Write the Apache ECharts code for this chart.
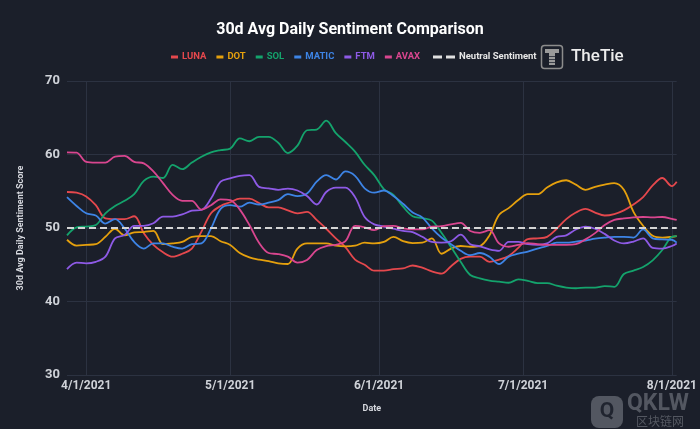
<!DOCTYPE html>
<html>
<head>
<meta charset="utf-8">
<script src="https://cdn.jsdelivr.net/npm/echarts@6/dist/echarts.min.js"></script>
<style>
  html, body { margin: 0; padding: 0; background: #1b1f2a; }
  #chart { width: 700px; height: 429px; }
</style>
</head>
<body>
<div id="chart"></div>
<script>
// Sample dates (every 2 days)
const sampleDates = [
  '3/28/2021','3/30/2021',
  '4/1/2021','4/3/2021','4/5/2021','4/7/2021','4/9/2021','4/11/2021','4/13/2021','4/15/2021','4/17/2021','4/19/2021','4/21/2021','4/23/2021','4/25/2021','4/27/2021','4/29/2021',
  '5/1/2021','5/3/2021','5/5/2021','5/7/2021','5/9/2021','5/11/2021','5/13/2021','5/15/2021','5/17/2021','5/19/2021','5/21/2021','5/23/2021','5/25/2021','5/27/2021','5/29/2021','5/31/2021',
  '6/2/2021','6/4/2021','6/6/2021','6/8/2021','6/10/2021','6/12/2021','6/14/2021','6/16/2021','6/18/2021','6/20/2021','6/22/2021','6/24/2021','6/26/2021','6/28/2021','6/30/2021',
  '7/2/2021','7/4/2021','7/6/2021','7/8/2021','7/10/2021','7/12/2021','7/14/2021','7/16/2021','7/18/2021','7/20/2021','7/22/2021','7/24/2021','7/26/2021','7/28/2021','7/30/2021',
  '8/1/2021','8/2/2021'
];

const luna = [54.9,54.8,54.3,53.1,51.3,51.2,51.2,51.6,49.3,47.7,46.7,46.1,46.5,47.2,49.5,52.0,53.0,
  53.5,54.0,54.0,53.4,52.8,52.8,52.4,52.0,52.2,51.1,49.9,48.6,47.4,45.7,45.0,44.2,
  44.2,44.4,44.5,44.9,44.6,44.1,43.8,44.8,45.8,46.1,46.1,45.4,45.7,46.2,47.3,
  48.5,48.6,48.8,49.9,51.2,52.1,52.6,52.1,51.7,51.9,52.4,53.2,54.2,55.8,56.8,
  55.7,56.3];

const dot = [48.4,47.6,47.7,47.8,48.8,49.9,49.0,49.4,49.45,49.6,47.8,47.9,48.1,48.8,48.9,48.9,48.2,
  47.7,46.6,46.0,45.7,45.5,45.2,45.1,47.2,47.9,47.9,47.9,47.6,47.5,47.6,48.0,47.9,
  48.1,48.8,48.2,47.95,48.0,48.6,46.5,47.2,47.55,47.45,47.55,49.0,51.8,52.7,53.8,
  54.6,54.6,55.5,56.2,56.5,55.9,55.2,55.6,55.9,56.1,55.2,52.2,50.3,48.95,48.7,
  48.8,48.9];

const sol = [49.0,50.1,50.2,50.4,52.0,53.0,53.7,54.6,56.4,57.0,56.8,58.6,58.0,58.9,59.7,60.3,60.6,
  60.8,62.2,61.8,62.4,62.4,61.6,60.2,61.2,63.3,63.4,64.6,62.9,61.7,60.4,58.6,57.2,
  55.3,54.5,52.9,51.6,51.35,51.0,49.35,47.4,45.4,43.6,43.15,42.85,42.7,42.55,43.0,
  42.8,42.5,42.5,42.15,41.9,41.8,41.9,41.9,42.1,42.0,43.75,44.2,44.7,45.6,47.0,
  48.8,48.9];

const matic = [54.2,53.0,52.0,51.7,50.6,51.2,49.95,48.1,47.2,47.9,47.9,47.45,47.2,47.8,47.9,49.95,52.6,
  53.1,52.9,53.45,53.2,53.45,53.8,54.6,54.35,54.7,56.3,57.2,56.6,57.7,57.1,55.4,54.8,
  55.1,54.35,53.3,52.1,51.45,49.95,48.7,47.8,46.9,46.3,46.6,46.1,45.1,46.1,46.5,
  46.8,47.2,47.55,48.0,48.0,48.15,48.3,48.55,48.7,48.8,48.8,48.7,49.8,48.6,48.45,
  48.4,48.0];

const ftm = [44.4,45.3,45.2,45.4,46.1,48.6,49.05,50.3,50.3,50.65,51.55,51.55,51.85,52.35,52.45,54.0,56.3,
  56.75,57.1,57.2,55.6,55.4,55.2,55.35,55.1,54.35,53.2,54.9,55.5,55.5,54.2,51.5,50.5,
  50.2,49.9,49.6,49.45,48.8,48.1,48.0,48.2,49.1,47.8,47.5,47.1,46.9,48.1,48.1,
  47.8,47.7,47.9,48.8,49.0,49.8,50.2,49.9,49.2,48.3,47.9,48.15,48.6,47.3,47.2,
  47.55,47.9];

const avax = [60.3,60.25,59.0,58.9,58.9,59.7,59.8,59.0,58.8,57.7,56.1,54.5,53.7,53.7,52.5,53.1,53.9,
  53.8,52.5,50.4,48.0,46.6,46.45,46.1,45.3,45.65,47.0,47.55,47.7,48.2,50.3,50.1,49.7,
  50.25,50.3,49.95,49.8,49.8,50.2,50.25,50.5,50.7,49.6,49.35,49.7,47.9,47.45,47.7,
  47.95,47.8,47.7,47.7,47.7,47.8,48.45,49.3,50.4,51.1,51.3,51.45,51.5,51.45,51.5,
  51.25,51.1];

const neutralValue = 50;
const yTicks = [30, 40, 50, 60, 70];
const seriesNames = ['LUNA', 'DOT', 'SOL', 'MATIC', 'FTM', 'AVAX'];
const seriesValues = [luna, dot, sol, matic, ftm, avax];
const colors = ['#e5484d', '#e5a00d', '#14a36c', '#3d84e6', '#8e5ae6', '#d9468f'];

// Daily category axis from first to last sample date
function buildDays(startStr, endStr) {
  const p = s => { const [m, d, y] = s.split('/').map(Number); return Date.UTC(y, m - 1, d); };
  const out = [];
  for (let t = p(startStr); t <= p(endStr); t += 86400000) {
    const dt = new Date(t);
    out.push((dt.getUTCMonth() + 1) + '/' + dt.getUTCDate() + '/' + dt.getUTCFullYear());
  }
  return out;
}
const days = buildDays(sampleDates[0], sampleDates[sampleDates.length - 1]);
const isMonthStart = (idx, val) => String(val).split('/')[1] === '1';

const chart = echarts.init(document.getElementById('chart'), null, { renderer: 'canvas' });

const series = seriesNames.map((name, i) => ({
  name,
  type: 'line',
  data: sampleDates.map((d, k) => [d, seriesValues[i][k]]),
  showSymbol: false,
  symbol: 'none',
  smooth: 0.35,
  lineStyle: { width: 1.8, color: colors[i] },
  itemStyle: { color: colors[i] },
  emphasis: { disabled: true },
  z: 2
}));
series.push({
  name: 'Neutral Sentiment',
  type: 'line',
  data: [[days[0], neutralValue], [days[days.length - 1], neutralValue]],
  showSymbol: false,
  symbol: 'none',
  lineStyle: { width: 2, color: '#d4d4d4', type: [7, 4] },
  itemStyle: { color: '#d4d4d4' },
  emphasis: { disabled: true },
  z: 3
});

const legendData = seriesNames.map((n, i) => ({
  name: n, icon: 'rect', textStyle: { color: colors[i] }
}));

const legendText = { fontSize: 9.5, fontWeight: 'bold', fontFamily: 'Roboto', padding: [0, 0, 0, -1] };

chart.setOption({
  backgroundColor: '#1b1f2a',
  animation: false,
  textStyle: { fontFamily: 'Roboto' },
  title: {
    text: '30d Avg Daily Sentiment Comparison',
    left: 'center',
    top: 17,
    textStyle: { color: '#ffffff', fontSize: 16, fontWeight: 'bold', fontFamily: 'Roboto' }
  },
  legend: [{
    data: legendData,
    left: 166,
    top: 47,
    itemWidth: 7,
    itemHeight: 3,
    itemGap: 10,
    itemStyle: { borderWidth: 0 },
    textStyle: legendText,
    selectedMode: false
  }, {
    data: [{
      name: 'Neutral Sentiment',
      icon: 'path://M0,0h9v3h-9z M13,0h9v3h-9z',
      itemStyle: { color: '#e0e0e0' },
      textStyle: { color: '#e6e6e6' }
    }],
    left: 428,
    top: 47,
    itemWidth: 22,
    itemHeight: 3,
    itemStyle: { borderWidth: 0 },
    textStyle: legendText,
    selectedMode: false
  }],
  grid: { left: 67, right: 21, top: 81, bottom: 54, containLabel: false },
  xAxis: {
    type: 'category',
    data: days,
    boundaryGap: false,
    name: 'Date',
    nameLocation: 'middle',
    nameGap: 29,
    nameTextStyle: { color: '#d6d8de', fontSize: 9, fontWeight: 'bold' },
    axisLine: { show: false },
    axisTick: { show: false },
    axisLabel: {
      interval: isMonthStart,
      color: '#cfd2d8',
      fontSize: 12,
      fontWeight: 'bold',
      margin: 5,
      hideOverlap: false
    },
    splitLine: { show: true, interval: isMonthStart, lineStyle: { color: '#2c3241', width: 1 } }
  },
  yAxis: {
    type: 'value',
    min: yTicks[0],
    max: yTicks[yTicks.length - 1],
    interval: 10,
    name: '30d Avg Daily Sentiment Score',
    nameLocation: 'middle',
    nameRotate: 90,
    nameGap: 42,
    nameTextStyle: { color: '#d6d8de', fontSize: 9, fontWeight: 'bold' },
    axisLine: { show: false },
    axisTick: { show: false },
    axisLabel: { color: '#cfd2d8', fontSize: 13, fontWeight: 'bold', margin: 7 },
    splitLine: { show: true, lineStyle: { color: '#2c3241', width: 1 } }
  },
  graphic: [
    // TheTie logo
    { type: 'rect', shape: { x: 541.5, y: 45.5, width: 21, height: 23, r: 3 },
      style: { fill: 'none', stroke: '#8c8c8c', lineWidth: 1.5 }, z: 10 },
    { type: 'rect', shape: { x: 545, y: 49, width: 14, height: 4 }, style: { fill: '#9a9a9a' }, z: 10 },
    { type: 'rect', shape: { x: 549, y: 53, width: 6, height: 12 }, style: { fill: '#9a9a9a' }, z: 10 },
    { type: 'rect', shape: { x: 549, y: 56, width: 6, height: 1 }, style: { fill: '#3a3e48' }, z: 11 },
    { type: 'rect', shape: { x: 549, y: 59, width: 6, height: 1 }, style: { fill: '#3a3e48' }, z: 11 },
    { type: 'rect', shape: { x: 549, y: 62, width: 6, height: 1 }, style: { fill: '#3a3e48' }, z: 11 },
    { type: 'text', x: 571, y: 57, style: { text: 'TheTie', fill: '#ececec', font: '500 17px Roboto', textVerticalAlign: 'middle' }, z: 10 },
    // watermark
    { type: 'rect', shape: { x: 591, y: 396, width: 32, height: 32, r: 8 },
      style: { fill: 'rgba(140,144,152,0.5)' }, z: 20 },
    { type: 'text', x: 607, y: 412, style: { text: 'Q', fill: 'rgba(27,31,42,0.9)', font: 'bold 21px Roboto', textAlign: 'center', textVerticalAlign: 'middle' }, z: 21 },
    { type: 'text', x: 627, y: 404, style: { text: 'QKLW', fill: 'rgba(140,144,152,0.5)', font: 'bold 23px Roboto', textVerticalAlign: 'middle' }, z: 20 },
    { type: 'text', x: 636, y: 421, style: { text: '区块链网', fill: 'rgba(140,144,152,0.5)', font: '12px "Noto Sans CJK SC"', textVerticalAlign: 'middle' }, z: 20 }
  ],
  series
});
</script>
</body>
</html>
